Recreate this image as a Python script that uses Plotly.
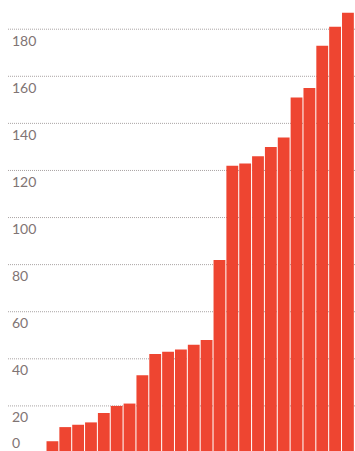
import plotly.graph_objects as go

# Ranked values, smallest to largest
values = [5, 11, 12, 13, 17, 20, 21, 33, 42, 43, 44, 46, 48, 82,
          122, 123, 126, 130, 134, 151, 155, 173, 181, 187]
positions = list(range(len(values)))
tick_values = [0, 20, 40, 60, 80, 100, 120, 140, 160, 180]
tick_labels = [str(v) for v in tick_values]

W, H = 355, 451
Y_MIN, Y_MAX = 0.85, 192.4
bar_color = "#ee4531"
label_color = "#7f7474"
grid_color = "#aaa4a4"

fig = go.Figure(
    go.Bar(
        x=positions,
        y=values,
        marker=dict(color=bar_color, line=dict(width=0)),
        hoverinfo="skip",
    )
)

# Dotted guide lines behind the bars (none at zero)
shapes = []
for v in tick_values[1:]:
    shapes.append(dict(
        type="line", xref="paper", yref="y",
        x0=8 / W, x1=1, y0=v, y1=v,
        line=dict(color=grid_color, width=1, dash="1px,1px"),
        layer="below",
    ))


def to_paper(v):
    return (v - Y_MIN) / (Y_MAX - Y_MIN)


# Value labels tucked under each guide line; the zero label sits just above the baseline
annotations = []
for v, t in zip(tick_values, tick_labels):
    annotations.append(dict(
        x=10 / W, xref="paper", y=to_paper(v), yref="paper",
        text=t, showarrow=False,
        xanchor="left", yanchor="middle",
        yshift=-11 if v > 0 else 11,
        font=dict(family="Lato, Open Sans, sans-serif", size=14, color=label_color),
    ))

fig.update_layout(
    width=W, height=H,
    margin=dict(l=0, r=0, t=0, b=0),
    paper_bgcolor="white", plot_bgcolor="white",
    bargap=0.08,
    showlegend=False,
    shapes=shapes,
    annotations=annotations,
    xaxis=dict(range=[-4.08, 23.55], visible=False, fixedrange=True),
    yaxis=dict(range=[Y_MIN, Y_MAX], visible=False, fixedrange=True),
)

fig.write_html("out.html", config={"displayModeBar": False})
